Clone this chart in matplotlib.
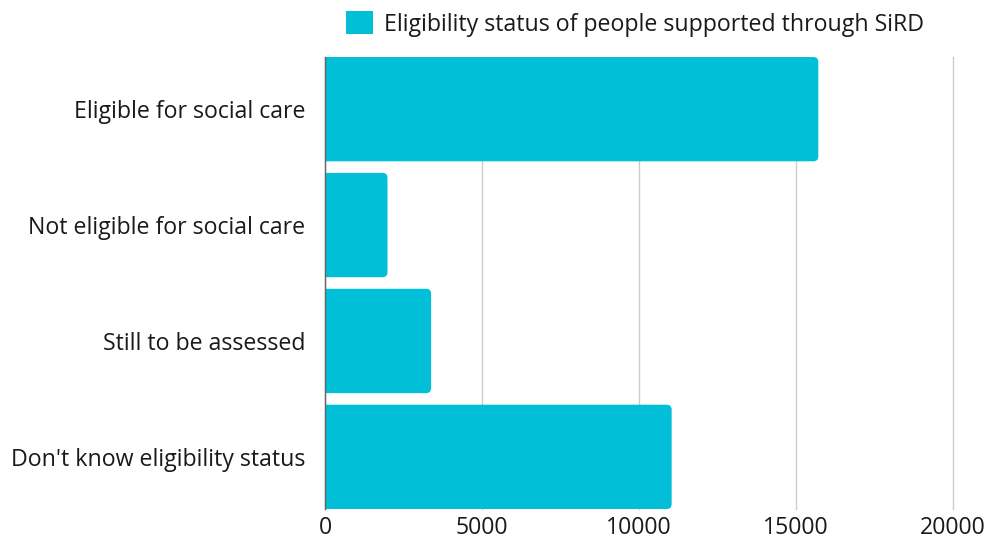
import matplotlib
matplotlib.use('Agg')
import matplotlib.pyplot as plt
from matplotlib.patches import FancyBboxPatch, Patch

plt.rcParams['font.family'] = ['Open Sans', 'DejaVu Sans']

categories = ['Eligible for social care', 'Not eligible for social care',
              'Still to be assessed', "Don't know eligibility status"]
values = [15710, 1990, 3380, 11040]
series_name = 'Eligibility status of people supported through SiRD'
xticks = [0, 5000, 10000, 15000, 20000]

color = '#00BFD7'
fs = 16.7

fig = plt.figure(figsize=(9.89, 5.42), dpi=100)
ax = fig.add_axes([0.3286, 0.0609, 0.6350, 0.8339])

ax.set_xlim(0, 20000)
ax.set_ylim(3.45, -0.45)

# rounded right ends: px -> data conversion
px_x = 20000 / 628.0
px_y = 1 / 116.0
r = 5
height = 0.9
for i, v in enumerate(values):
    left = -10 * r * px_x
    p = FancyBboxPatch((left, i - height / 2), v - left, height,
                       boxstyle='round,pad=0,rounding_size=%f' % (r * px_x),
                       mutation_aspect=px_y / px_x,
                       facecolor=color, edgecolor='none', zorder=3)
    ax.add_patch(p)

ax.set_yticks(range(len(categories)))
ax.set_yticklabels(categories, fontsize=fs, color='#1a1a1a')
for lbl in ax.get_yticklabels():
    lbl.set_va('center_baseline')
ax.set_xticks(xticks)
ax.set_xticklabels([str(t) for t in xticks], fontsize=fs, color='#1a1a1a')
ax.tick_params(axis='y', length=0, pad=14)
ax.tick_params(axis='x', length=0, pad=5)

ax.grid(axis='x', color='#cccccc', linewidth=1, zorder=0)
for gl in ax.get_xgridlines():
    gl.set_clip_on(False)
ax.set_axisbelow(True)
for s in ['top', 'right', 'bottom']:
    ax.spines[s].set_visible(False)
ax.spines['left'].set_color('#666666')
ax.spines['left'].set_linewidth(1)
ax.spines['left'].set_zorder(4)

handle = Patch(facecolor=color, edgecolor='none', label=series_name)
fig.legend(handles=[handle], loc='upper left', bbox_to_anchor=(0.350, 0.979),
           frameon=False, fontsize=fs, handlelength=1.15, handleheight=1.15,
           handletextpad=0.48, borderaxespad=0, borderpad=0)
for t in fig.legends[0].get_texts():
    t.set_color('#1a1a1a')

fig.savefig('out.png', dpi=100)
